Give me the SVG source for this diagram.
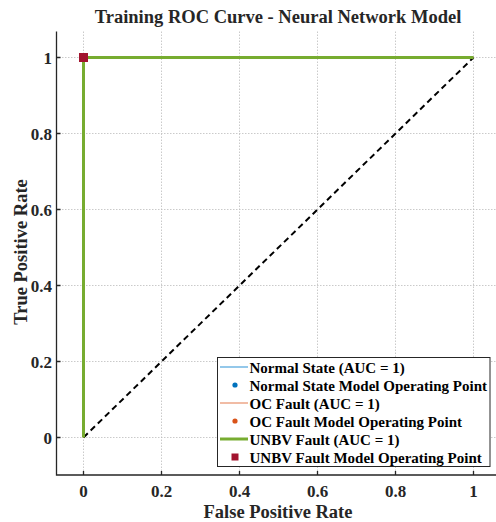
<svg xmlns="http://www.w3.org/2000/svg" width="496" height="522" viewBox="0 0 496 522">
<style>
text{font-family:"Liberation Serif","Times New Roman",serif;font-weight:bold;fill:#262626}
.tick{font-size:17px}
.lab{font-size:18.5px}
.leg{font-size:15px;fill:#000}
.grid line{stroke:#bdbdbd;stroke-width:0.8;stroke-dasharray:1.5,1.5}
.ax{stroke:#262626;stroke-width:1.3;fill:none}
</style>
<rect width="496" height="522" fill="#fff"/>
<text x="278" y="23" text-anchor="middle" style="font-size:18.5px" fill="#000">Training ROC Curve - Neural Network Model</text>
<g class="grid" id="grid">
<line x1="83.5" y1="31.5" x2="83.5" y2="475"/>
<line x1="161.5" y1="31.5" x2="161.5" y2="475"/>
<line x1="239.5" y1="31.5" x2="239.5" y2="475"/>
<line x1="317.5" y1="31.5" x2="317.5" y2="475"/>
<line x1="395.5" y1="31.5" x2="395.5" y2="475"/>
<line x1="473.5" y1="31.5" x2="473.5" y2="475"/>
<line x1="56" y1="57.5" x2="496" y2="57.5"/>
<line x1="56" y1="133.5" x2="496" y2="133.5"/>
<line x1="56" y1="209.5" x2="496" y2="209.5"/>
<line x1="56" y1="285.5" x2="496" y2="285.5"/>
<line x1="56" y1="361.5" x2="496" y2="361.5"/>
<line x1="56" y1="437.5" x2="496" y2="437.5"/>
</g>
<g id="axes">
<path class="ax" d="M56.5,31.5 V475 H496"/>
<path class="ax" d="M56.5,57.5h4M56.5,133.5h4M56.5,209.5h4M56.5,285.5h4M56.5,361.5h4M56.5,437.5h4M83.5,475v-4M161.5,475v-4M239.5,475v-4M317.5,475v-4M395.5,475v-4M473.5,475v-4"/>
<g class="tick" text-anchor="end">
<text x="52" y="63.5">1</text>
<text x="52" y="139.5">0.8</text>
<text x="52" y="215.5">0.6</text>
<text x="52" y="291.5">0.4</text>
<text x="52" y="367.5">0.2</text>
<text x="52" y="443.5">0</text>
</g>
<g class="tick" text-anchor="middle">
<text x="83.5" y="497">0</text>
<text x="161.5" y="497">0.2</text>
<text x="239.5" y="497">0.4</text>
<text x="317.5" y="497">0.6</text>
<text x="395.5" y="497">0.8</text>
<text x="473.5" y="497">1</text>
</g>
<text class="lab" x="278" y="518" text-anchor="middle">False Positive Rate</text>
<text class="lab" transform="translate(27,252) rotate(-90)" text-anchor="middle">True Positive Rate</text>
</g>
<g id="connectors">
<path id="diag" d="M83.5,437.5 L473.5,57.5" stroke="#000" stroke-width="2" stroke-dasharray="6,4" fill="none"/>
<path id="normal" d="M83.5,437.5 V57.5 H473.5" stroke="#0072BD" stroke-width="1" fill="none"/>
<path id="oc" d="M83.5,437.5 V57.5 H473.5" stroke="#D95319" stroke-width="1" fill="none"/>
<path id="unbv" d="M83.5,437.5 V57.5 H473.5" stroke="#77AC30" stroke-width="3" fill="none"/>
</g>
<g id="points">
<circle cx="83.5" cy="57.5" r="3" fill="#0072BD"/>
<circle cx="83.5" cy="57.5" r="3" fill="#D95319"/>
<rect x="79" y="53" width="9" height="9" fill="#A2142F"/>
</g>
<g id="legend">
<rect x="217.5" y="357.5" width="272.5" height="109" fill="#fff" stroke="#262626" stroke-width="1"/>
<line x1="220" y1="367" x2="248" y2="367" stroke="#4da3dd" stroke-width="1.2"/>
<circle cx="235" cy="385" r="2.6" fill="#0072BD"/>
<line x1="220" y1="403" x2="248" y2="403" stroke="#e8906a" stroke-width="1.2"/>
<circle cx="235" cy="421" r="2.6" fill="#D95319"/>
<line x1="220" y1="439" x2="248" y2="439" stroke="#77AC30" stroke-width="3"/>
<rect x="231.5" y="453.5" width="7" height="7" fill="#A2142F"/>
<text class="leg" x="249.5" y="373">Normal State (AUC = 1)</text>
<text class="leg" x="249.5" y="391">Normal State Model Operating Point</text>
<text class="leg" x="249.5" y="409">OC Fault (AUC = 1)</text>
<text class="leg" x="249.5" y="427">OC Fault Model Operating Point</text>
<text class="leg" x="249.5" y="445">UNBV Fault (AUC = 1)</text>
<text class="leg" x="249.5" y="463">UNBV Fault Model Operating Point</text>
</g>
</svg>
